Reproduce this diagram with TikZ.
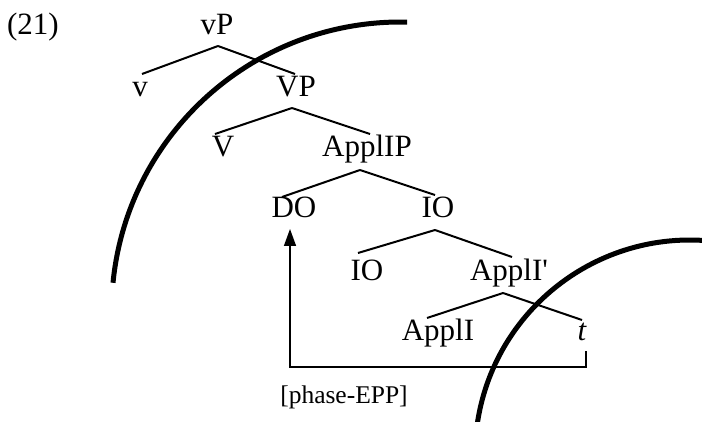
\documentclass[tikz,border=0pt]{standalone}
\usepackage{fontspec}
\setmainfont{Liberation Serif}[Ligatures=TeXOff]
\usetikzlibrary{arrows.meta}
\begin{document}
\begin{tikzpicture}[x=1pt,y=1pt,
  lbl/.style={anchor=base,inner xsep=0pt,inner ysep=2pt,outer sep=0pt,
    text height=21pt,text depth=9pt,font=\fontsize{31}{36}\selectfont},
  branch/.style={line width=2pt},
  phasearc/.style={line width=5pt},
  move/.style={line width=1.5pt},
  note/.style={anchor=base,inner sep=0pt,font=\fontsize{25.5}{30}\selectfont}]
\useasboundingbox (0,0) rectangle (702,421);
\clip (0,0) rectangle (702,421);
% labels
\node[lbl,anchor=base west] (n21) at (7,386) {(21)};
\node[lbl] (vP) at (217,386) {vP};
\node[lbl] (v) at (140,324) {v};
\node[lbl] (VP) at (296,324) {VP};
\node[lbl] (V) at (223,264) {V};
\node[lbl] (ApplIP) at (367,264) {ApplIP};
\node[lbl] (DO) at (294,203) {DO};
\node[lbl] (IOa) at (438,203) {IO};
\node[lbl] (IOb) at (367,141) {IO};
\node[lbl] (ApplIbar) at (509,141) {ApplI'};
\node[lbl] (ApplI) at (438,81) {ApplI};
\node[lbl] (t) at (582,81) {\itshape t};
\node[note] (epp) at (344,18) {[phase-EPP]};
% branches
\draw[branch] ([xshift=1pt]vP.south) coordinate (a1) -- ([xshift=2pt]v.north);
\draw[branch] (a1) -- ([xshift=-1pt]VP.north);
\draw[branch] ([xshift=-4pt]VP.south) coordinate (a2) -- ([xshift=-8pt]V.north);
\draw[branch] (a2) -- ([xshift=3pt]ApplIP.north);
\draw[branch] ([xshift=-7pt,yshift=-2pt]ApplIP.south) coordinate (a3) -- ([xshift=-12pt,yshift=-2pt]DO.north);
\draw[branch] (a3) -- ([xshift=-3pt]IOa.north);
\draw[branch] ([xshift=-3pt,yshift=-1pt]IOa.south) coordinate (a4) -- ([xshift=-9pt,yshift=4pt]IOb.north);
\draw[branch] (a4) -- ([xshift=3pt]ApplIbar.north);
\draw[branch] ([xshift=-6pt,yshift=-2pt]ApplIbar.south) coordinate (a5) -- ([xshift=-11pt,yshift=-1pt]ApplI.north);
\draw[branch] (a5) -- ([yshift=-3pt]t.north);
% movement
\coordinate (bend) at (290,54);
\draw[move,-{Triangle[length=17pt,width=12pt]}] ([xshift=4pt]t.south) |- (bend) -- ([xshift=-4pt]DO.south);
% phase arcs
\draw[phasearc] (113,138.2) arc[start angle=174.4, end angle=88.7, radius=289];
\draw[phasearc] (477.1,-4.1) arc[start angle=172, end angle=84, radius=215];
\end{tikzpicture}
\end{document}
